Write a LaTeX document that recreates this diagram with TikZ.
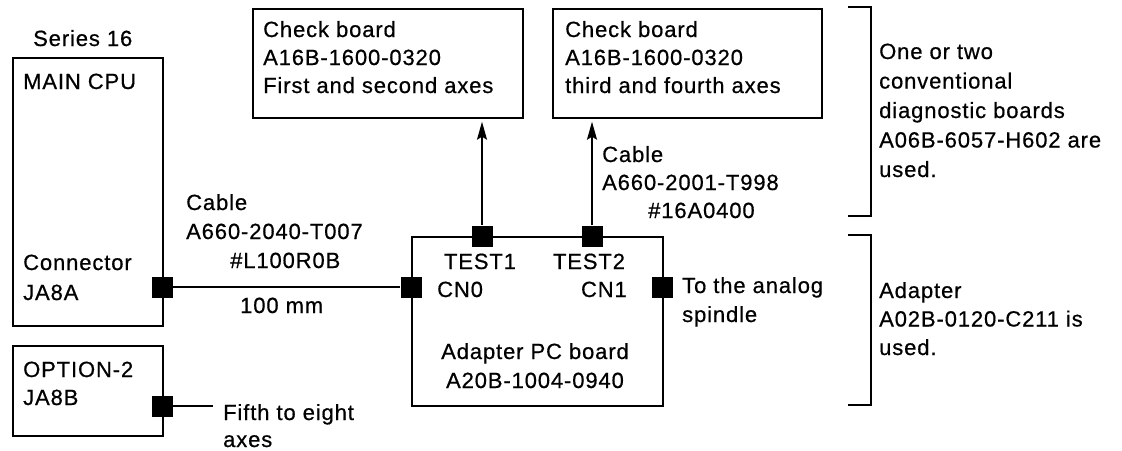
\documentclass[tikz,border=0pt]{standalone}
\usepackage{fontspec}
\setmainfont{Liberation Sans}[LetterSpace=4,FakeBold=0.6]
\usetikzlibrary{arrows.meta}
\begin{document}
\begin{tikzpicture}[x=1pt,y=-1pt,
  every node/.style={font=\fontsize{22}{29}\selectfont},
  box/.style={draw,line width=1.7pt,inner sep=0pt,anchor=north west},
  conn/.style={fill=black,inner sep=0pt,minimum width=21pt,minimum height=21pt},
  txt/.style={anchor=base west,inner sep=0pt,align=left},
  wire/.style={line width=1.7pt},
  arr/.style={line width=1.7pt,shorten >=3pt,-{Stealth[length=18pt,width=10pt,inset=3pt]}},
  brk/.style={line width=1.7pt}
]
\useasboundingbox (0,0) rectangle (1122,450);
% boxes
\node[box,minimum width=150pt,minimum height=268pt] (cpu) at (12,57) {};
\node[box,minimum width=150pt,minimum height=90pt] (opt) at (12,345) {};
\node[box,minimum width=270pt,minimum height=109pt] (cb1) at (252,8) {};
\node[box,minimum width=269pt,minimum height=109pt] (cb2) at (552,8) {};
\node[box,minimum width=251pt,minimum height=169pt] (adp) at (411,236) {};
% connectors
\node[conn] (ja8a) at (162,287) {};
\node[conn] (ja8b) at (162,406) {};
\node[conn] (cn0) at (411,287) {};
\node[conn] (cn1) at (662,287) {};
\node[conn] (t1) at (482,236) {};
\node[conn] (t2) at (592,236) {};
\coordinate (fend) at (213,406);
% wires
\draw[wire] (ja8a) -- (cn0);
\draw[wire] (ja8b) -- (fend);
\draw[arr] (t1) -- (t1 |- cb1.south);
\draw[arr] (t2) -- (t2 |- cb2.south);
% brackets
\draw[brk] (848,7) -- (871,7) -- (871,216) -- (848,216);
\draw[brk] (848,235) -- (871,235) -- (871,405) -- (848,405);
% texts (base = baseline of the last line)
\node[txt] (series) at (33,46) {Series 16};
\node[txt] (maincpu) at (23,89) {MAIN CPU};
\node[txt,font=\fontsize{22}{30}\selectfont] (conntxt) at (23,300) {Connector\\JA8A};
\node[txt,font=\fontsize{22}{28}\selectfont] (opttxt) at (23,405) {OPTION-2\\JA8B};
\node[txt,font=\fontsize{22}{28}\selectfont] (cb1txt) at (263,93) {Check board\\A16B-1600-0320\\First and second axes};
\node[txt,font=\fontsize{22}{28}\selectfont] (cb2txt) at (565,93) {Check board\\A16B-1600-0320\\third and fourth axes};
\node[txt] (cable1) at (186,268) {Cable\\A660-2040-T007\\\hspace*{44pt}\#L100R0B};
\node[txt] (mm) at (240,313) {100 mm};
\node[anchor=base,inner sep=0pt] (test1) at (480,269) {TEST1};
\node[anchor=base,inner sep=0pt] (test2) at (589,269) {TEST2};
\node[txt] (cn0txt) at (437,297) {CN0};
\node[anchor=base east,inner sep=0pt] (cn1txt) at (627,297) {CN1};
\node[anchor=base,inner sep=0pt,align=center] (adptxt) at (535,388) {Adapter PC board\\A20B-1004-0940};
\node[txt] (spindle) at (682,322) {To the analog\\spindle};
\node[txt,font=\fontsize{22}{28}\selectfont] (cable2) at (602,218) {Cable\\A660-2001-T998\\\hspace*{46pt}\#16A0400};
\node[txt,font=\fontsize{22}{27}\selectfont] (fifth) at (223,447) {Fifth to eight\\axes};
\node[txt,font=\fontsize{22}{29.5}\selectfont] (note1) at (879,177) {One or two\\conventional\\diagnostic boards\\A06B-6057-H602 are\\used.};
\node[txt,font=\fontsize{22}{28.5}\selectfont] (note2) at (879,355) {Adapter\\A02B-0120-C211 is\\used.};
\end{tikzpicture}
\end{document}
